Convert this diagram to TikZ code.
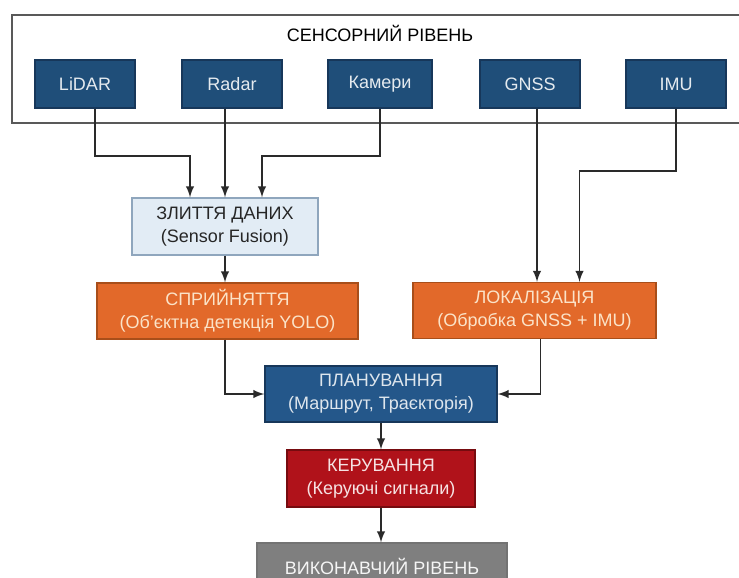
\documentclass[tikz,border=0pt]{standalone}
\usepackage{fontspec}
\setmainfont{Liberation Sans}
\usetikzlibrary{calc}

\definecolor{sensblue}{HTML}{1F4E79}
\definecolor{sensedge}{HTML}{17375A}
\definecolor{planblue}{HTML}{24578A}
\definecolor{fusfill}{HTML}{E2ECF5}
\definecolor{fusedge}{HTML}{8FA6BD}
\definecolor{orfill}{HTML}{E2692A}
\definecolor{oredge}{HTML}{A84E1A}
\definecolor{ortext}{HTML}{FBE3C8}
\definecolor{ctrlred}{HTML}{B0121A}
\definecolor{ctrledge}{HTML}{760B0F}
\definecolor{execgray}{HTML}{7F7F7F}
\definecolor{linegray}{HTML}{2A2A2A}

\begin{document}
\begin{tikzpicture}[x=0.5pt,y=-0.5pt,
  font=\fontsize{9}{11.5}\selectfont,
  box/.style={draw, line width=0.7pt, align=center, inner sep=0pt},
  sensor/.style={box, fill=sensblue, draw=sensedge, text=white!88!sensblue,
    minimum width=50pt, minimum height=24pt},
  fusion/.style={box, fill=fusfill, draw=fusedge, text=black!85,
    minimum width=93pt, minimum height=28.5pt},
  orange/.style={box, fill=orfill, draw=oredge, text=ortext, minimum height=28pt},
  plan/.style={box, fill=planblue, draw=sensedge, text=white!85!planblue,
    minimum width=116pt, minimum height=28pt},
  ctrl/.style={box, fill=ctrlred, draw=ctrledge, text=white!88!ctrlred,
    minimum width=94pt, minimum height=28.5pt},
  exec/.style={box, fill=execgray, draw=black!55, text=white!92!execgray,
    minimum width=125pt, minimum height=23pt},
  arr/.style={-latex, draw=linegray, line width=0.9pt}]
  \useasboundingbox (0,0) rectangle (739,578);
  \fill[white] (0,0) rectangle (739,578);

  \draw[black!65, line width=1pt] (12,15) rectangle (760,123);
  \node (title) at (380,33) {\fontsize{9}{11}\selectfont СЕНСОРНИЙ РІВЕНЬ};

  \node[sensor] (lidar) at (85,84) {LiDAR};
  \node[sensor] (radar) at (232,84) {Radar};
  \node[sensor, minimum width=52pt] (cam) at (380,84) {Камери};
  \node[sensor] (gnss) at (530,84) {GNSS};
  \node[sensor] (imu) at (676,84) {IMU};

  \node[fusion] (fus) at (225,226.5) {ЗЛИТТЯ ДАНИХ\\(Sensor Fusion)};
  \node[orange, minimum width=130.5pt] (perc) at (227.5,311) {СПРИЙНЯТТЯ\\(Об'єктна детекція YOLO)};
  \node[orange, minimum width=121.5pt] (loc) at (534.5,310.5) {ЛОКАЛІЗАЦІЯ\\(Обробка GNSS + IMU)};
  \node[plan] (plan) at (381,394) {ПЛАНУВАННЯ\\(Маршрут, Траєкторія)};
  \node[ctrl] (ctrl) at (381,478.5) {КЕРУВАННЯ\\(Керуючі сигнали)};
  \node[exec] (exec) at (382,566) {ВИКОНАВЧИЙ РІВЕНЬ};

  \draw[arr] ([xshift=5pt]lidar.south) -- ++(0,47) -| ([xshift=-17.5pt]fus.north);
  \draw[arr] (radar.south -| fus.north) -- (fus.north);
  \draw[arr] (cam.south) -- ++(0,47) -| ([xshift=18.5pt]fus.north);
  \draw[arr] ([xshift=3.5pt]gnss.south) -- ([xshift=3.5pt]gnss.south |- loc.north);
  \draw[arr] (imu.south) -- ++(0,62) -| ([xshift=22.5pt]loc.north);

  \draw[arr] (fus.south) -- (fus.south |- perc.north);
  \draw[arr] (fus.south |- perc.south) |- (plan.west);
  \draw[arr] ([xshift=3pt]loc.south) |- (plan.east);
  \draw[arr] (plan.south) -- (ctrl.north);
  \draw[arr] (ctrl.south) -- (ctrl.south |- exec.north);
\end{tikzpicture}
\end{document}
